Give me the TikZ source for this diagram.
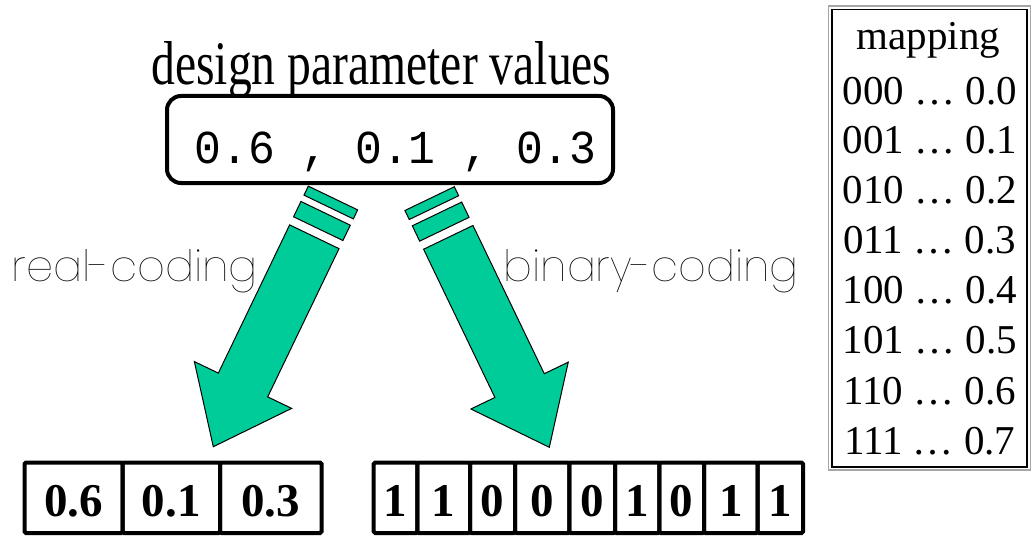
\documentclass[tikz,border=0pt]{standalone}
\usepackage{fontspec}
\setmainfont{Liberation Serif}
\setmonofont{Liberation Mono}
\newfontfamily\thinfont{Poppins Thin}
\definecolor{arrowgreen}{HTML}{00CC99}
\begin{document}
\begin{tikzpicture}[x=1pt,y=1pt,
  garrow/.style={fill=arrowgreen, draw=black, line width=1pt, line join=miter},
  cell/.style={draw, line width=4pt, minimum height=70.5pt, inner sep=0pt,
    text height=38pt, text depth=0pt, rounded corners=1.5pt,
    font=\fontsize{47}{50}\selectfont\bfseries},
  maptext/.style={anchor=base, inner sep=0pt, font=\fontsize{41}{45}\selectfont},
  plain/.style={inner sep=0pt}
]
\useasboundingbox (0,0) rectangle (1032,-540);

% arrows
\begin{scope}[shift={(213.3,-446.7)}, rotate=244.3]
  \filldraw[garrow] (0,0) -- (-68.5,54) -- (-68.5,27.4) -- (-233,27.4) -- (-233,-27.4) -- (-68.5,-27.4) -- (-68.5,-54) -- cycle;
  \filldraw[garrow] (-242,27.4) rectangle (-259,-27.4);
  \filldraw[garrow] (-266,27.4) rectangle (-276,-27.4);
\end{scope}
\begin{scope}[shift={(549.3,-447.3)}, rotate=-64.3]
  \filldraw[garrow] (0,0) -- (-68.5,54) -- (-68.5,27.4) -- (-233,27.4) -- (-233,-27.4) -- (-68.5,-27.4) -- (-68.5,-54) -- cycle;
  \filldraw[garrow] (-242,27.4) rectangle (-259,-27.4);
  \filldraw[garrow] (-266,27.4) rectangle (-276,-27.4);
\end{scope}

% title and value box
\node[plain, anchor=base] (title) at (381.4,-85) {\resizebox{460pt}{43pt}{design parameter values}};
\node[draw, line width=4pt, rounded corners=14pt, minimum width=446pt, minimum height=87pt, inner sep=0pt] (vals) at (390,-139.5) {};
\node[plain, anchor=base] (valtext) at (395.5,-163.3) {\resizebox{402pt}{31.6pt}{\ttfamily 0.6 , 0.1 , 0.3}};

% labels
\node[plain, anchor=base west] (rc) at (11.7,-281.7) {\resizebox{246pt}{32pt}{\thinfont real-coding}};
\node[plain, anchor=base west] (bc) at (503.3,-281.7) {\resizebox{295pt}{32pt}{\thinfont binary-coding}};

% real-coded string
\node[cell, minimum width=98.2pt] (r1) at (73.6,-497.75) {0.6};
\node[cell, minimum width=97.3pt] (r2) at (171.35,-497.75) {0.1};
\node[cell, minimum width=101.5pt] (r3) at (270.75,-497.75) {0.3};

% binary-coded string
\node[cell, minimum width=43.6pt] (b1) at (395.5,-497.75) {1};
\node[cell, minimum width=52.7pt] (b2) at (443.65,-497.75) {1};
\node[cell, minimum width=45pt] (b3) at (492.5,-497.75) {0};
\node[cell, minimum width=54.3pt] (b4) at (542.15,-497.75) {0};
\node[cell, minimum width=45.7pt] (b5) at (592.15,-497.75) {0};
\node[cell, minimum width=44.3pt] (b6) at (637.15,-497.75) {1};
\node[cell, minimum width=44.7pt] (b7) at (681.65,-497.75) {0};
\node[cell, minimum width=53.7pt] (b8) at (730.85,-497.75) {1};
\node[cell, minimum width=45.3pt] (b9) at (780.35,-497.75) {1};

% mapping table
\draw[gray!70, line width=1.5pt] (828.5,-6) rectangle (1030.5,-470);
\draw[black, line width=1.2pt] (832,-9.5) rectangle (1027,-467);
\node[maptext] (mh) at (928.3,-50) {mapping};
\node[maptext] (m0) at (929.7,-105) {000 … 0.0};
\node[maptext] (m1) at (929.7,-153.5) {001 … 0.1};
\node[maptext] (m2) at (929.7,-203) {010 … 0.2};
\node[maptext] (m3) at (929.7,-253) {011 … 0.3};
\node[maptext] (m4) at (929.7,-303) {100 … 0.4};
\node[maptext] (m5) at (929.7,-353) {101 … 0.5};
\node[maptext] (m6) at (929.7,-404) {110 … 0.6};
\node[maptext] (m7) at (929.7,-454) {111 … 0.7};
\end{tikzpicture}
\end{document}
